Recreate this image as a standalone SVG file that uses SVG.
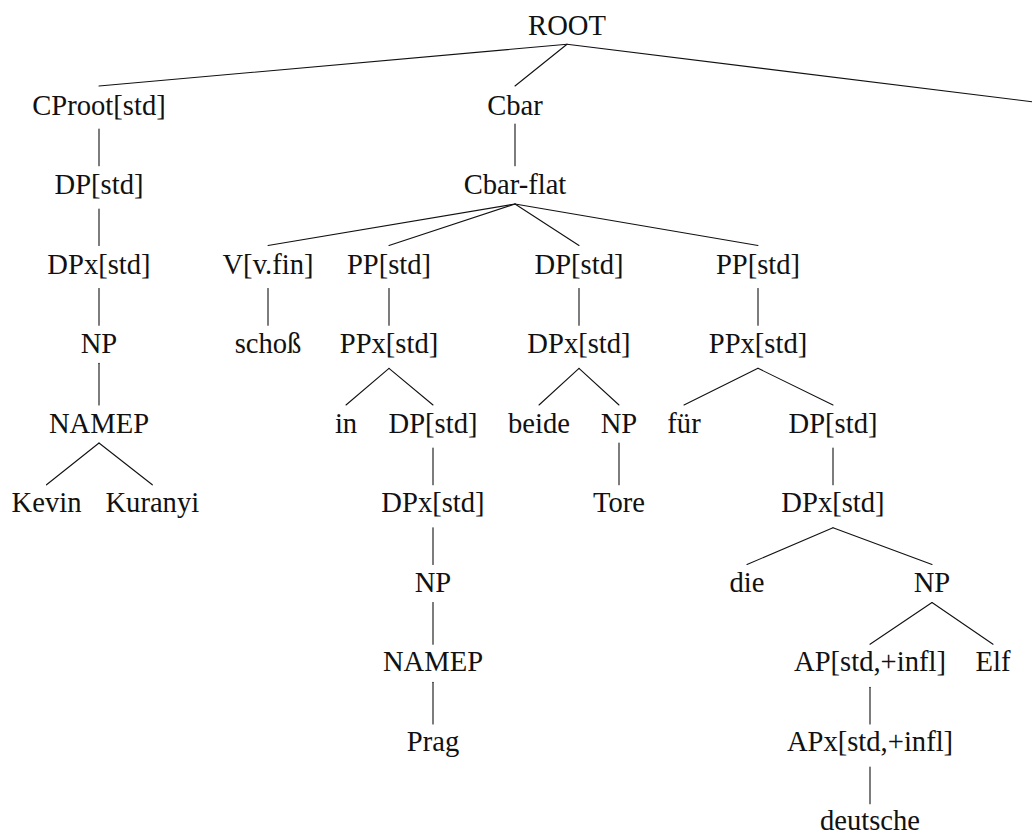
<svg xmlns="http://www.w3.org/2000/svg" width="1032" height="834" viewBox="0 0 1032 834">
  <style>
    .lbl { font-family: "Liberation Serif", "Times New Roman", serif; font-size: 28.6px; fill: #111; text-anchor: middle; }
    .edge { stroke: #111; stroke-width: 1.1; fill: none; stroke-linecap: round; }
  </style>
  <rect width="1032" height="834" fill="#ffffff"/>

  <!-- tree branches -->
  <g id="connectors" class="edge">
    <!-- ROOT -->
    <line x1="567" y1="44.3" x2="99" y2="86"/>
    <line x1="567" y1="44.3" x2="515" y2="86"/>
    <line x1="567" y1="44.3" x2="1032" y2="101.7"/>
    <!-- CProot / Cbar -->
    <line x1="99" y1="129" x2="99" y2="165.8"/>
    <line x1="515" y1="124" x2="515" y2="165.8"/>
    <!-- DP / Cbar-flat -->
    <line x1="99" y1="209" x2="99" y2="245.5"/>
    <line x1="515" y1="204" x2="268" y2="245.5"/>
    <line x1="515" y1="204" x2="389" y2="245.5"/>
    <line x1="515" y1="204" x2="579" y2="245.5"/>
    <line x1="515" y1="204" x2="758" y2="245.5"/>
    <!-- level 3 -->
    <line x1="99" y1="288.5" x2="99" y2="325.3"/>
    <line x1="268" y1="288.5" x2="268" y2="325.3"/>
    <line x1="389" y1="288.5" x2="389" y2="325.3"/>
    <line x1="579" y1="288.5" x2="579" y2="325.3"/>
    <line x1="758" y1="288.5" x2="758" y2="325.3"/>
    <!-- level 4 -->
    <line x1="99" y1="363.3" x2="99" y2="405"/>
    <line x1="389" y1="368.3" x2="346" y2="405"/>
    <line x1="389" y1="368.3" x2="433" y2="405"/>
    <line x1="579" y1="368.3" x2="539" y2="405"/>
    <line x1="579" y1="368.3" x2="619" y2="405"/>
    <line x1="758" y1="368.3" x2="684" y2="405"/>
    <line x1="758" y1="368.3" x2="833" y2="405"/>
    <!-- level 5 -->
    <line x1="99" y1="443" x2="46.5" y2="484.8"/>
    <line x1="99" y1="443" x2="152.3" y2="484.8"/>
    <line x1="433" y1="448" x2="433" y2="484.8"/>
    <line x1="619" y1="443" x2="619" y2="484.8"/>
    <line x1="833" y1="448" x2="833" y2="484.8"/>
    <!-- level 6 -->
    <line x1="433" y1="527.8" x2="433" y2="564.5"/>
    <line x1="833" y1="527.8" x2="747" y2="564.5"/>
    <line x1="833" y1="527.8" x2="932" y2="564.5"/>
    <!-- level 7 -->
    <line x1="433" y1="602.5" x2="433" y2="644.3"/>
    <line x1="932" y1="602.5" x2="870" y2="644.3"/>
    <line x1="932" y1="602.5" x2="993" y2="644.3"/>
    <!-- level 8 -->
    <line x1="433" y1="682.3" x2="433" y2="724"/>
    <line x1="870" y1="687.3" x2="870" y2="724"/>
    <!-- level 9 -->
    <line x1="870" y1="767" x2="870" y2="803.8"/>
  </g>

  <!-- level 0 -->
  <g id="n-root"><text class="lbl" x="567" y="35">ROOT</text></g>

  <!-- level 1 -->
  <g id="n-cproot"><text class="lbl" x="99" y="114.5">CProot[std]</text></g>
  <g id="n-cbar"><text class="lbl" x="515" y="114.5">Cbar</text></g>

  <!-- level 2 -->
  <g id="n-dp1"><text class="lbl" x="99" y="194">DP[std]</text></g>
  <g id="n-cbarflat"><text class="lbl" x="515" y="194">Cbar-flat</text></g>

  <!-- level 3 -->
  <g id="n-dpx1"><text class="lbl" x="99" y="273.5">DPx[std]</text></g>
  <g id="n-vfin"><text class="lbl" x="268" y="273.5">V[v.fin]</text></g>
  <g id="n-pp1"><text class="lbl" x="389" y="273.5">PP[std]</text></g>
  <g id="n-dp2"><text class="lbl" x="579" y="273.5">DP[std]</text></g>
  <g id="n-pp2"><text class="lbl" x="758" y="273.5">PP[std]</text></g>

  <!-- level 4 -->
  <g id="n-np1"><text class="lbl" x="99" y="353">NP</text></g>
  <g id="n-schoss"><text class="lbl" x="268" y="353">schoß</text></g>
  <g id="n-ppx1"><text class="lbl" x="389" y="353">PPx[std]</text></g>
  <g id="n-dpx2"><text class="lbl" x="579" y="353">DPx[std]</text></g>
  <g id="n-ppx2"><text class="lbl" x="758" y="353">PPx[std]</text></g>

  <!-- level 5 -->
  <g id="n-namep1"><text class="lbl" x="99" y="432.5">NAMEP</text></g>
  <g id="n-in"><text class="lbl" x="346" y="432.5">in</text></g>
  <g id="n-dp3"><text class="lbl" x="433" y="432.5">DP[std]</text></g>
  <g id="n-beide"><text class="lbl" x="539" y="432.5">beide</text></g>
  <g id="n-np2"><text class="lbl" x="619" y="432.5">NP</text></g>
  <g id="n-fuer"><text class="lbl" x="684" y="432.5">für</text></g>
  <g id="n-dp4"><text class="lbl" x="833" y="432.5">DP[std]</text></g>

  <!-- level 6 -->
  <g id="n-kevin"><text class="lbl" x="46.5" y="512">Kevin</text></g>
  <g id="n-kuranyi"><text class="lbl" x="152.3" y="512">Kuranyi</text></g>
  <g id="n-dpx3"><text class="lbl" x="433" y="512">DPx[std]</text></g>
  <g id="n-tore"><text class="lbl" x="619" y="512">Tore</text></g>
  <g id="n-dpx4"><text class="lbl" x="833" y="512">DPx[std]</text></g>

  <!-- level 7 -->
  <g id="n-np3"><text class="lbl" x="433" y="591.5">NP</text></g>
  <g id="n-die"><text class="lbl" x="747" y="591.5">die</text></g>
  <g id="n-np4"><text class="lbl" x="932" y="591.5">NP</text></g>

  <!-- level 8 -->
  <g id="n-namep2"><text class="lbl" x="433" y="671">NAMEP</text></g>
  <g id="n-ap"><text class="lbl" x="870" y="671">AP[std,+infl]</text></g>
  <g id="n-elf"><text class="lbl" x="993" y="671">Elf</text></g>

  <!-- level 9 -->
  <g id="n-prag"><text class="lbl" x="433" y="750.5">Prag</text></g>
  <g id="n-apx"><text class="lbl" x="870" y="750.5">APx[std,+infl]</text></g>

  <!-- level 10 -->
  <g id="n-deutsche"><text class="lbl" x="870" y="830">deutsche</text></g>
</svg>
